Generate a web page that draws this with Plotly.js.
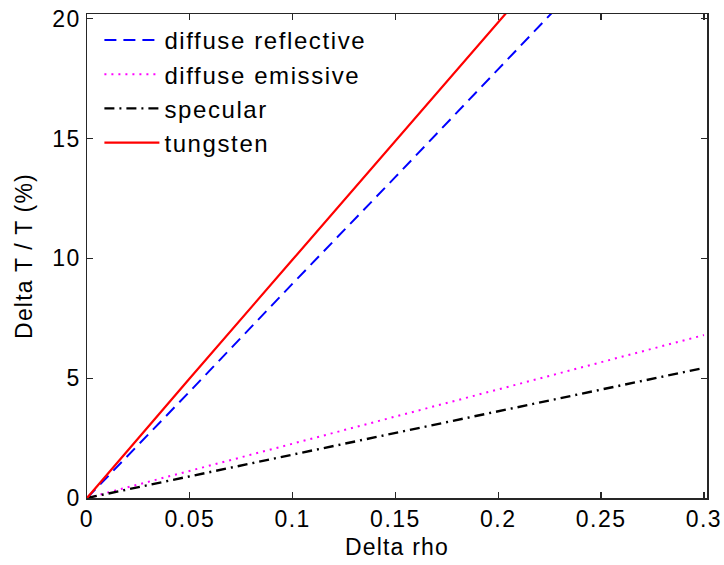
<!DOCTYPE html>
<html>
<head>
<meta charset="utf-8">
<script src="https://cdn.plot.ly/plotly-3.0.1.min.js"></script>
<style>
html, body { margin: 0; padding: 0; background: #fff; }
#chart { width: 724px; height: 565px; }
#chart .legendtext { letter-spacing: 1.6px; }
#chart .legend .scrollbox, #chart .legend { clip-path: none !important; }
#chart .xtick text, #chart .ytick text { letter-spacing: 1.5px; }
#chart .g-xtitle text, #chart .g-ytitle text { letter-spacing: 1.2px; }
</style>
</head>
<body>
<div id="chart"></div>
<script>
// Data
const deltaRho = [0, 0.05, 0.1, 0.15, 0.2, 0.25, 0.3];
const tungstenRho = [0, 0.05, 0.1, 0.15, 0.2, 0.21];
const tungsten = [0, 5.0, 9.95, 14.9, 19.85, 20.85];
const reflectiveRho = [0, 0.05, 0.1, 0.15, 0.2, 0.23];
const diffuseReflective = [0, 4.45, 8.95, 13.4, 17.9, 20.6];
const diffuseEmissive = [0, 1.13, 2.27, 3.4, 4.53, 5.67, 6.8];
const specular = [0, 0.9, 1.8, 2.71, 3.62, 4.52, 5.43];
const seriesNames = ['diffuse reflective', 'diffuse emissive', 'specular', 'tungsten'];
const xTicks = [0, 0.05, 0.1, 0.15, 0.2, 0.25, 0.3];
const xTickText = ['0', '0.05', '0.1', '0.15', '0.2', '0.25', '0.3'];
const yTicks = [0, 5, 10, 15, 20];

const FONT = 'Liberation Sans, Arial, Helvetica, sans-serif';

const traces = [
  { x: reflectiveRho, y: diffuseReflective, name: seriesNames[0], mode: 'lines',
    line: { color: '#0000ff', width: 2, dash: '12px,7px' } },
  { x: deltaRho, y: diffuseEmissive, name: seriesNames[1], mode: 'lines',
    line: { color: '#ff00ff', width: 2, dash: '2px,5px' } },
  { x: deltaRho, y: specular, name: seriesNames[2], mode: 'lines',
    line: { color: '#000000', width: 2.4, dash: '10px,5px,2px,5px' } },
  { x: tungstenRho, y: tungsten, name: seriesNames[3], mode: 'lines',
    line: { color: '#ff0000', width: 2.2 } }
];

const axisCommon = {
  showgrid: false, zeroline: false, showline: true, mirror: 'ticks',
  linecolor: '#262626', linewidth: 1.5, ticks: 'inside', ticklen: 6,
  tickwidth: 1.2, tickcolor: '#262626',
  tickfont: { family: FONT, size: 23, color: '#000' }
};

const layout = {
  width: 724, height: 565,
  margin: { l: 87, r: 17, t: 14, b: 67 },
  paper_bgcolor: '#fff', plot_bgcolor: '#fff',
  font: { family: FONT, size: 23, color: '#000' },
  showlegend: true,
  legend: {
    x: 0.02, y: 0.992, xanchor: 'left', yanchor: 'top',
    bgcolor: 'rgba(255,255,255,0)', borderwidth: 0,
    font: { family: FONT, size: 24, color: '#000' },
    itemwidth: 55, tracegroupgap: 0
  },
  xaxis: Object.assign({}, axisCommon, {
    range: [0, 0.3015], tickvals: xTicks, ticktext: xTickText,
    title: { text: 'Delta rho', font: { family: FONT, size: 23, color: '#000' }, standoff: 8 }
  }),
  yaxis: Object.assign({}, axisCommon, {
    range: [0, 20.2], tickvals: yTicks,
    title: { text: 'Delta T / T (%)', font: { family: FONT, size: 23, color: '#000' }, standoff: 16 }
  })
};

Plotly.newPlot('chart', traces, layout, { staticPlot: true, displayModeBar: false });
</script>
</body>
</html>
